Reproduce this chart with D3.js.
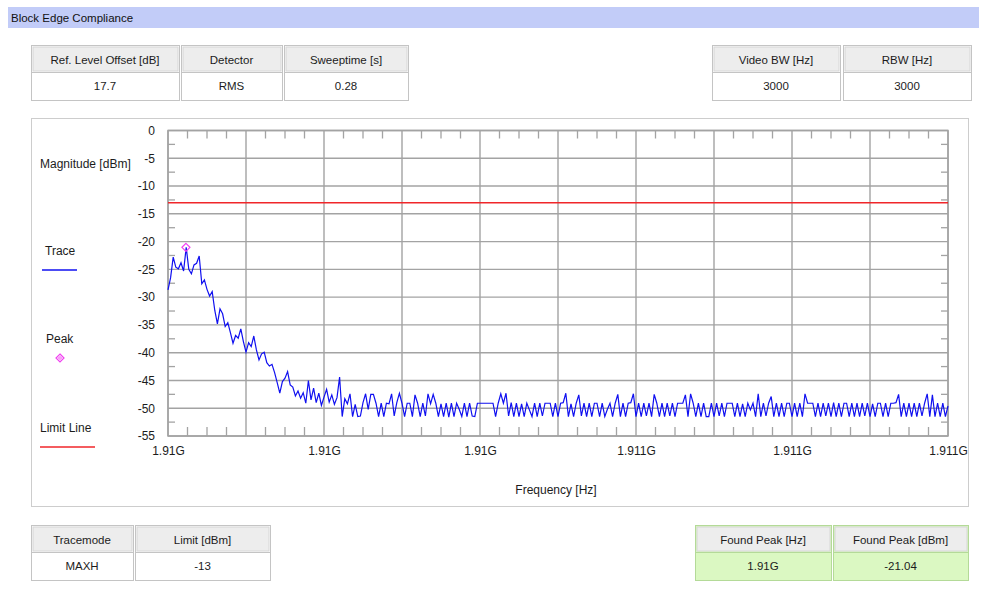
<!DOCTYPE html>
<html>
<head>
<meta charset="utf-8">
<script src="https://cdn.jsdelivr.net/npm/d3@7/dist/d3.min.js"></script>
<style>
  html, body { margin: 0; padding: 0; background: #fff; }
  svg { display: block; font-family: "Liberation Sans", Arial, sans-serif; }
</style>
</head>
<body>
<svg id="chart" width="981" height="603"></svg>
<script>
// ---------------- DATA ----------------
const titleText = "Block Edge Compliance";

const topLeftHeaders = ["Ref. Level Offset [dB]", "Detector", "Sweeptime [s]"];
const topLeftValues  = ["17.7", "RMS", "0.28"];
const topRightHeaders = ["Video BW [Hz]", "RBW [Hz]"];
const topRightValues  = ["3000", "3000"];
const bottomLeftHeaders = ["Tracemode", "Limit [dBm]"];
const bottomLeftValues  = ["MAXH", "-13"];
const bottomRightHeaders = ["Found Peak [Hz]", "Found Peak [dBm]"];
const bottomRightValues  = ["1.91G", "-21.04"];

const freqStart = 1910000000;
const freqStop  = 1911000000;
const xTickLabels = ["1.91G", "1.91G", "1.91G", "1.911G", "1.911G", "1.911G"];
const yTicks = [0, -5, -10, -15, -20, -25, -30, -35, -40, -45, -50, -55];

const limitValue = -13;
const peakFreq = 1910023000;
const peakLevel = -21.04;

const legendLabels = ["Trace", "Peak", "Limit Line"];
const yAxisTitle = "Magnitude [dBm]";
const xAxisTitle = "Frequency [Hz]";

// trace magnitudes (dBm), evenly spaced sweep points from freqStart to freqStop
const traceLevels = [
  -28.7, -26.5, -22.8, -24.6, -24.9, -23.8, -25.3, -21.04, -25.0, -25.8,
  -24.2, -23.9, -22.6, -27.6, -26.9, -28.6, -29.8, -29.0, -32.4, -34.8,
  -32.1, -33.0, -35.3, -34.6, -36.4, -38.3, -36.9, -37.4, -35.7, -38.0,
  -39.9, -38.2, -38.9, -37.0, -39.5, -41.3, -40.2, -39.9, -41.8, -42.4,
  -42.1, -43.6, -45.4, -47.3, -45.2, -44.6, -43.4, -45.8, -46.2, -47.8,
  -46.9, -48.2, -47.2, -49.1, -45.0, -48.5, -46.4, -49.0, -47.3, -49.5,
  -48.0, -46.6, -48.9, -47.6, -49.3, -48.1, -44.4, -51.5, -48.3, -49.2,
  -47.4, -51.5, -49.3, -51.5, -51.4, -49.0, -47.4, -50.2, -47.5, -47.5,
  -49.1, -51.5, -49.1, -51.5, -49.1, -49.2, -47.4, -51.4, -49.0, -47.3,
  -49.1, -51.5, -49.1, -49.1, -51.5, -47.6, -49.1, -51.5, -49.1, -51.4,
  -47.4, -49.2, -47.5, -49.1, -51.5, -49.2, -51.5, -49.1, -51.6, -49.1,
  -51.5, -49.1, -50.2, -51.5, -49.1, -51.5, -49.1, -51.4, -51.5, -49.1,
  -49.1, -49.1, -49.1, -49.1, -49.1, -49.1, -51.5, -49.1, -47.4, -49.1,
  -47.3, -51.4, -49.0, -51.5, -49.1, -51.5, -49.2, -51.5, -49.1, -50.3,
  -51.5, -49.1, -51.5, -49.1, -51.4, -49.1, -49.1, -49.1, -51.5, -49.1,
  -51.5, -49.1, -49.0, -47.3, -51.5, -49.2, -51.5, -49.1, -47.6, -51.4,
  -49.1, -51.5, -49.1, -51.5, -49.1, -49.1, -51.5, -49.1, -51.5, -50.2,
  -49.1, -51.5, -49.1, -47.5, -51.5, -49.1, -51.5, -49.1, -49.0, -47.4,
  -51.5, -49.1, -51.5, -49.1, -51.4, -49.1, -51.5, -47.5, -49.1, -51.5,
  -49.1, -51.5, -49.1, -51.4, -49.1, -51.5, -49.1, -49.1, -49.1, -47.6,
  -51.5, -47.4, -49.1, -51.5, -49.1, -51.5, -49.1, -51.5, -51.5, -49.1,
  -51.5, -49.1, -51.4, -49.1, -51.5, -49.1, -49.1, -49.1, -51.5, -49.1,
  -51.5, -49.2, -51.5, -49.1, -50.3, -49.1, -51.5, -47.4, -51.5, -49.1,
  -51.4, -49.1, -47.9, -51.5, -49.1, -51.5, -49.1, -51.5, -49.1, -49.1,
  -51.5, -49.1, -51.5, -49.1, -51.5, -47.4, -49.1, -49.1, -49.1, -51.5,
  -49.1, -51.5, -49.1, -51.4, -49.1, -51.5, -49.0, -51.5, -49.1, -51.5,
  -49.1, -49.1, -51.5, -49.1, -51.5, -49.1, -51.5, -49.1, -51.4, -49.1,
  -51.5, -49.2, -51.5, -49.1, -49.1, -51.5, -49.1, -51.5, -49.1, -49.1,
  -49.0, -47.5, -51.5, -49.1, -51.5, -49.1, -51.5, -49.1, -51.5, -49.1,
  -51.4, -49.1, -47.4, -51.5, -47.6, -51.5, -49.1, -51.5, -49.1, -51.5,
  -49.6
];

// ---------------- DRAW ----------------
const svg = d3.select("#chart");
const textColor = "#1c1c1c";

// title bar
svg.append("rect").attr("x", 8).attr("y", 7).attr("width", 971).attr("height", 21)
  .attr("fill", "#c2ccf8");
svg.append("text").attr("x", 11).attr("y", 22).attr("font-size", 11.5)
  .attr("fill", "#111").text(titleText);

// info boxes
function infoTable(cols, headers, values, top, green) {
  const headH = 27, valH = 28;
  cols.forEach((c, i) => {
    const g = svg.append("g");
    const w = c[1] - c[0];
    g.append("rect").attr("x", c[0] + 0.5).attr("y", top + 0.5).attr("width", w).attr("height", headH + valH)
      .attr("fill", green ? "#dbf8c2" : "#fff").attr("stroke", green ? "#b4da98" : "#c4c4c4");
    g.append("rect").attr("x", c[0] + 2).attr("y", top + 2).attr("width", w - 3).attr("height", headH - 3)
      .attr("fill", "#ededed").attr("stroke", "#d6d6d6");
    g.append("line").attr("x1", c[0] + 0.5).attr("x2", c[1] + 0.5)
      .attr("y1", top + headH + 0.5).attr("y2", top + headH + 0.5)
      .attr("stroke", green ? "#b4da98" : "#c4c4c4");
    g.append("text").attr("x", (c[0] + c[1]) / 2).attr("y", top + 18.5)
      .attr("text-anchor", "middle").attr("font-size", 11.5).attr("fill", textColor).text(headers[i]);
    g.append("text").attr("x", (c[0] + c[1]) / 2).attr("y", top + headH + 18)
      .attr("text-anchor", "middle").attr("font-size", 11.5).attr("fill", textColor).text(values[i]);
  });
}
infoTable([[31, 179], [181, 282], [284, 408]], topLeftHeaders, topLeftValues, 45, false);
infoTable([[712, 840], [843, 971]], topRightHeaders, topRightValues, 45, false);
infoTable([[31, 133], [135, 270]], bottomLeftHeaders, bottomLeftValues, 525, false);
infoTable([[695, 831], [833, 968]], bottomRightHeaders, bottomRightValues, 525, true);

// plot panel
svg.append("rect").attr("x", 31.5).attr("y", 118.5).attr("width", 937).attr("height", 388)
  .attr("fill", "#fff").attr("stroke", "#cdcdcd");

const x = d3.scaleLinear().domain([freqStart, freqStop]).range([168, 948]);
const y = d3.scaleLinear().domain([-55, 0]).range([436, 130.5]);

const gridColor = "#a3a3a3";
const plot = svg.append("g");

// horizontal gridlines
plot.selectAll("line.hg").data(yTicks).join("line")
  .attr("x1", x.range()[0]).attr("x2", x.range()[1])
  .attr("y1", d => y(d)).attr("y2", d => y(d))
  .attr("stroke", gridColor).attr("stroke-width", 1.4);

// vertical gridlines (10 divisions)
const majorX = d3.range(0, 11).map(i => freqStart + (freqStop - freqStart) * i / 10);
plot.selectAll("line.vg").data(majorX).join("line")
  .attr("x1", d => x(d)).attr("x2", d => x(d))
  .attr("y1", y(0)).attr("y2", y(-55))
  .attr("stroke", gridColor).attr("stroke-width", 1.4);

// minor ticks on x (top & bottom)
const minorX = d3.range(0, 41).filter(i => i % 4 !== 0).map(i => freqStart + (freqStop - freqStart) * i / 40);
plot.selectAll("line.tt").data(minorX).join("line")
  .attr("x1", d => x(d)).attr("x2", d => x(d))
  .attr("y1", y(0)).attr("y2", y(0) + 8)
  .attr("stroke", gridColor).attr("stroke-width", 1.3);
plot.selectAll("line.bt").data(minorX).join("line")
  .attr("x1", d => x(d)).attr("x2", d => x(d))
  .attr("y1", y(-55)).attr("y2", y(-55) - 9)
  .attr("stroke", gridColor).attr("stroke-width", 1.3);

// minor ticks on y (left & right)
const minorY = yTicks.slice(0, -1).map(v => v - 2.5);
plot.selectAll("line.lt").data(minorY).join("line")
  .attr("x1", x.range()[0]).attr("x2", x.range()[0] + 7)
  .attr("y1", d => y(d)).attr("y2", d => y(d))
  .attr("stroke", gridColor).attr("stroke-width", 1.3);
plot.selectAll("line.rt").data(minorY).join("line")
  .attr("x1", x.range()[1]).attr("x2", x.range()[1] - 7)
  .attr("y1", d => y(d)).attr("y2", d => y(d))
  .attr("stroke", gridColor).attr("stroke-width", 1.3);

// frame
plot.append("rect").attr("x", x.range()[0]).attr("y", y(0))
  .attr("width", x.range()[1] - x.range()[0]).attr("height", y(-55) - y(0))
  .attr("fill", "none").attr("stroke", gridColor).attr("stroke-width", 1.5);

// axes (labels only)
const yAxis = d3.axisLeft(y).tickValues(yTicks).tickSize(0).tickPadding(13)
  .tickFormat(d => d === 0 ? "0" : "-" + Math.abs(d));
const yg = svg.append("g").attr("transform", `translate(${x.range()[0]},0)`).call(yAxis);
yg.select(".domain").remove();
yg.selectAll("text").attr("font-size", 12).attr("fill", textColor)
  .attr("font-family", "Liberation Sans, Arial, sans-serif");

const xTickVals = d3.range(0, 6).map(i => freqStart + (freqStop - freqStart) * i / 5);
const xAxis = d3.axisBottom(x).tickValues(xTickVals).tickSize(0).tickPadding(10)
  .tickFormat((d, i) => xTickLabels[i]);
const xg = svg.append("g").attr("transform", `translate(0,${y(-55)})`).call(xAxis);
xg.select(".domain").remove();
xg.selectAll("text").attr("font-size", 12).attr("fill", textColor)
  .attr("font-family", "Liberation Sans, Arial, sans-serif");

// axis titles
svg.append("text").attr("x", 40).attr("y", 168).attr("font-size", 12).attr("fill", textColor).text(yAxisTitle);
svg.append("text").attr("x", 556).attr("y", 494).attr("text-anchor", "middle")
  .attr("font-size", 12).attr("fill", textColor).text(xAxisTitle);

// limit line
svg.append("line").attr("x1", x.range()[0]).attr("x2", x.range()[1])
  .attr("y1", y(limitValue)).attr("y2", y(limitValue))
  .attr("stroke", "#f0262a").attr("stroke-width", 1.6);

// trace
const n = traceLevels.length;
const traceData = traceLevels.map((v, i) => ({ f: freqStart + (freqStop - freqStart) * i / (n - 1), v }));
svg.append("path").datum(traceData)
  .attr("fill", "none").attr("stroke", "#1010f0").attr("stroke-width", 1.2)
  .attr("d", d3.line().x(d => x(d.f)).y(d => y(d.v)));

// peak marker
function diamond(cx, cy, r) {
  return `M${cx},${cy - r}L${cx + r},${cy}L${cx},${cy + r}L${cx - r},${cy}Z`;
}
svg.append("path").attr("d", diamond(x(peakFreq), y(peakLevel), 4))
  .attr("fill", "none").attr("stroke", "#f040f0").attr("stroke-width", 1.2);

// legend
svg.append("text").attr("x", 45).attr("y", 255).attr("font-size", 12).attr("fill", textColor).text(legendLabels[0]);
svg.append("line").attr("x1", 42).attr("x2", 77).attr("y1", 270).attr("y2", 270)
  .attr("stroke", "#1010f0").attr("stroke-width", 1.6);
svg.append("text").attr("x", 46).attr("y", 343).attr("font-size", 12).attr("fill", textColor).text(legendLabels[1]);
svg.append("path").attr("d", diamond(60, 358, 4))
  .attr("fill", "none").attr("stroke", "#f040f0").attr("stroke-width", 1.2);
svg.append("path").attr("d", diamond(60, 358, 1.5))
  .attr("fill", "none").attr("stroke", "#f040f0").attr("stroke-width", 1);
svg.append("text").attr("x", 40).attr("y", 432).attr("font-size", 12).attr("fill", textColor).text(legendLabels[2]);
svg.append("line").attr("x1", 40).attr("x2", 95).attr("y1", 447).attr("y2", 447)
  .attr("stroke", "#f0262a").attr("stroke-width", 1.6);
</script>
</body>
</html>
